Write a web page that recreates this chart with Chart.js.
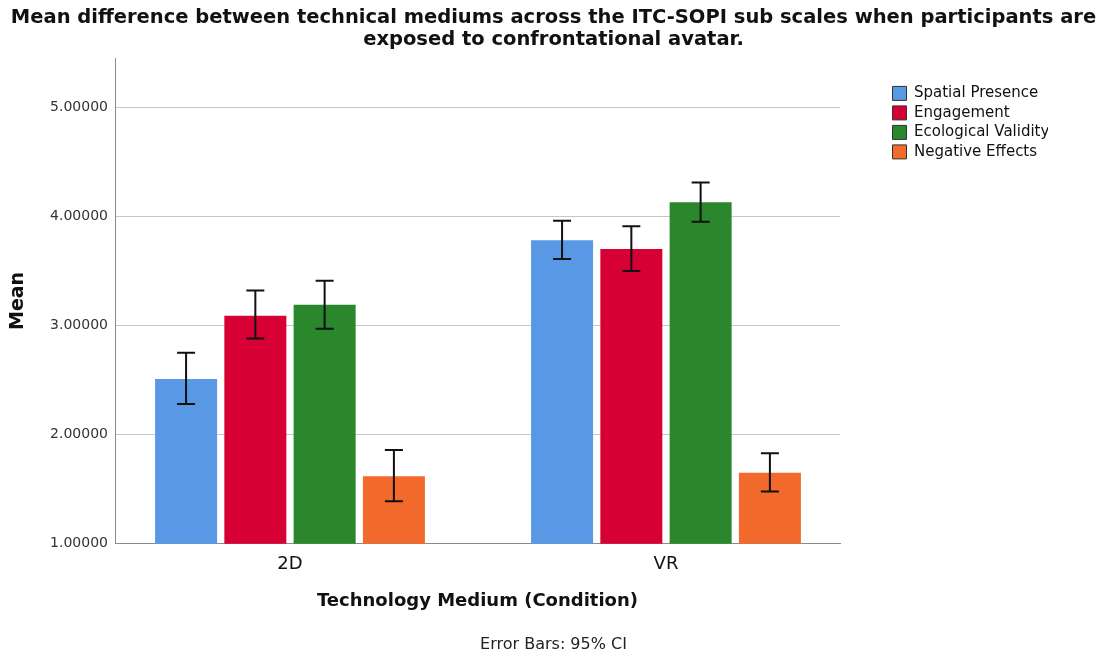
<!DOCTYPE html>
<html lang="en">
<head>
    <meta charset="UTF-8">
    <title>Mean difference between technical mediums</title>
    <script src="https://cdn.jsdelivr.net/npm/chart.js"></script>
    <style>
        html, body { margin: 0; padding: 0; background: #fff; }
        #wrap { width: 1107px; height: 658px; }
    </style>
</head>
<body>
<div id="wrap"><canvas id="meanChart" width="1107" height="658"></canvas></div>

<script>
    // categories on the x axis
    var conditions = ['2D', 'VR'];

    // sub scales (one dataset each)
    var subScales = ['Spatial Presence', 'Engagement', 'Ecological Validity', 'Negative Effects'];
    var colors = ['#5898e4', '#d60035', '#2b872b', '#f26a2c'];

    // means: [2D, VR]
    var spatialPresence   = [2.51, 3.78];
    var engagement        = [3.09, 3.70];
    var ecologicalValid   = [3.19, 4.13];
    var negativeEffects   = [1.62, 1.65];

    // 95% CI bounds
    var spatialLow  = [2.28, 3.61], spatialHigh  = [2.75, 3.96];
    var engageLow   = [2.88, 3.50], engageHigh   = [3.32, 3.91];
    var ecoLow      = [2.97, 3.95], ecoHigh      = [3.41, 4.31];
    var negLow      = [1.39, 1.48], negHigh      = [1.86, 1.83];

    var yTicks = [1, 2, 3, 4, 5];

    var means = [spatialPresence, engagement, ecologicalValid, negativeEffects];
    var lows  = [spatialLow, engageLow, ecoLow, negLow];
    var highs = [spatialHigh, engageHigh, ecoHigh, negHigh];

    var FONT = "'DejaVu Sans', sans-serif";

    // error bars drawn on top of the bars
    var errorBars = {
        id: 'errorBars',
        afterDatasetsDraw: function(chart) {
            var ctx = chart.ctx;
            var y = chart.scales.y;
            ctx.save();
            ctx.strokeStyle = '#111';
            ctx.lineWidth = 2;
            chart.data.datasets.forEach(function(ds, i) {
                var meta = chart.getDatasetMeta(i);
                meta.data.forEach(function(bar, j) {
                    var top = y.getPixelForValue(highs[i][j]);
                    var bot = y.getPixelForValue(lows[i][j]);
                    var half = 9;
                    ctx.beginPath();
                    ctx.moveTo(bar.x, top); ctx.lineTo(bar.x, bot);
                    ctx.moveTo(bar.x - half, top); ctx.lineTo(bar.x + half, top);
                    ctx.moveTo(bar.x - half, bot); ctx.lineTo(bar.x + half, bot);
                    ctx.stroke();
                });
            });
            ctx.restore();
        }
    };

    var datasets = subScales.map(function(name, i) {
        return {
            label: name,
            data: means[i].map(function(v, j) { return { x: j, y: v }; }),
            backgroundColor: colors[i],
            borderWidth: 0,
            categoryPercentage: 0.737,
            barPercentage: 0.895
        };
    });

    // invisible axis used only to reserve horizontal space
    function spacer(width, weight) {
        return {
            type: 'linear',
            position: 'right',
            display: true,
            weight: weight,
            grid: { display: false, drawTicks: false },
            border: { display: false },
            ticks: { display: false },
            afterFit: function(scale) { scale.width = width; }
        };
    }

    var ctx = document.getElementById('meanChart').getContext('2d');
    var chart = new Chart(ctx, {
        type: 'bar',
        data: { datasets: datasets },
        plugins: [errorBars],
        options: {
            responsive: false,
            animation: false,
            layout: { padding: 0 },
            plugins: {
                title: {
                    display: true,
                    text: ['Mean difference between technical mediums across the ITC-SOPI sub scales when participants are',
                           'exposed to confrontational avatar.'],
                    color: '#111',
                    font: { family: FONT, size: 19.5, weight: 'bold', lineHeight: 1.13 },
                    padding: { top: 7, bottom: 7 }
                },
                subtitle: {
                    display: true,
                    position: 'bottom',
                    text: 'Error Bars: 95% CI',
                    color: '#222',
                    font: { family: FONT, size: 16 },
                    padding: { top: 4, bottom: 4 }
                },
                legend: {
                    position: 'right',
                    align: 'start',
                    maxWidth: 160,
                    title: { display: true, text: '', font: { size: 12 }, padding: { top: 61, bottom: 6 } },
                    labels: {
                        boxWidth: 14,
                        boxHeight: 14,
                        padding: 4.5,
                        color: '#111',
                        font: { family: FONT, size: 15 },
                        generateLabels: function(chart) {
                            return chart.data.datasets.map(function(ds, i) {
                                return {
                                    text: ds.label,
                                    fillStyle: ds.backgroundColor,
                                    strokeStyle: '#333',
                                    fontColor: '#111',
                                    lineWidth: 1,
                                    datasetIndex: i
                                };
                            });
                        }
                    }
                },
                tooltip: { enabled: false }
            },
            scales: {
                x: {
                    type: 'linear',
                    offset: false,
                    min: -0.4654,
                    max: 1.4628,
                    grid: { display: false, drawTicks: false },
                    border: { display: true, color: '#8a8a8a', width: 1 },
                    afterBuildTicks: function(scale) {
                        scale.ticks = conditions.map(function(c, i) { return { value: i }; });
                    },
                    afterFit: function(scale) { scale.height = 87; },
                    ticks: {
                        padding: 10,
                        color: '#111',
                        font: { family: FONT, size: 18 },
                        callback: function(v) { return conditions[v]; }
                    },
                    title: {
                        display: true,
                        text: 'Technology Medium (Condition)',
                        color: '#111',
                        font: { family: FONT, size: 18, weight: 'bold' },
                        padding: { top: 0, bottom: 19 }
                    }
                },
                y: {
                    min: 1,
                    max: 5.45,
                    afterBuildTicks: function(scale) {
                        scale.ticks = yTicks.map(function(v) { return { value: v }; });
                    },
                    afterFit: function(scale) { scale.width = 115; },
                    grid: { color: '#c6c6c6', drawTicks: false, lineWidth: 1 },
                    border: { display: true, color: '#8a8a8a', width: 1 },
                    ticks: {
                        padding: 7,
                        color: '#333',
                        font: { family: FONT, size: 14 },
                        callback: function(v) { return Number(v).toFixed(5); }
                    },
                    title: {
                        display: true,
                        text: 'Mean',
                        color: '#111',
                        font: { family: FONT, size: 19, weight: 'bold' },
                        padding: { top: 7, bottom: 0 }
                    }
                },
                // space between plot and legend, and right of the legend
                gap: spacer(48, 0),
                gapOuter: spacer(59, 2000)
            }
        }
    });
</script>
</body>
</html>
